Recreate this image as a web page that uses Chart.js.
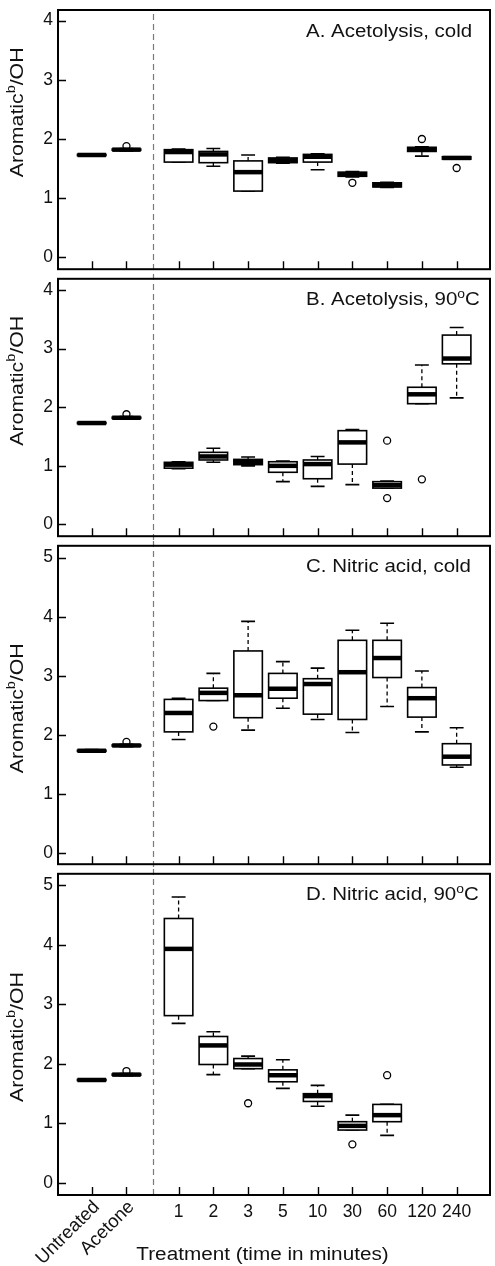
<!DOCTYPE html>
<html>
<head>
<meta charset="utf-8">
<script src="https://cdn.jsdelivr.net/npm/chart.js@4.4.0/dist/chart.umd.min.js"></script>
<style>
  body { margin: 0; background: #fff; }
  #wrap { position: relative; width: 495px; height: 1266px; }
  canvas { position: absolute; left: 0; }
</style>
</head>
<body>
<div id="wrap">
  <canvas id="panelA" width="495" height="274" style="top:0px"></canvas>
  <canvas id="panelB" width="495" height="267" style="top:274px"></canvas>
  <canvas id="panelC" width="495" height="328" style="top:541px"></canvas>
  <canvas id="panelD" width="495" height="397" style="top:869px"></canvas>
</div>
<script>
// categories and their positions on the x axis (gap after the controls)
const groupLabels = ['Untreated', 'Acetone', '1', '2', '3', '5', '10', '30', '60', '120', '240'];
const groupPos = [1, 2, 3.5, 4.5, 5.5, 6.5, 7.5, 8.5, 9.5, 10.5, 11.5];
const dividerPos = 2.75;
const yTicksAB = [0, 1, 2, 3, 4];
const yTicksCD = [0, 1, 2, 3, 4, 5];

// A. Acetolysis, cold
const aLow  = [1.71, 1.80, 1.61, 1.54, 1.12, 1.59, 1.48, 1.36, 1.18, 1.71, 1.66];
const aQ1   = [1.72, 1.81, 1.61, 1.60, 1.12, 1.60, 1.61, 1.37, 1.19, 1.79, 1.66];
const aMed  = [1.73, 1.82, 1.78, 1.74, 1.44, 1.64, 1.70, 1.40, 1.22, 1.82, 1.68];
const aQ3   = [1.74, 1.83, 1.82, 1.79, 1.63, 1.68, 1.74, 1.44, 1.26, 1.86, 1.70];
const aHigh = [1.75, 1.84, 1.83, 1.84, 1.73, 1.69, 1.75, 1.45, 1.27, 1.87, 1.70];
const aOut  = [[], [1.88], [], [], [], [], [], [1.26], [], [2.00], [1.51]];

// B. Acetolysis, 90oC
const bLow  = [1.71, 1.80, 0.95, 1.06, 1.00, 0.73, 0.65, 0.68, 0.62, 2.06, 2.16];
const bQ1   = [1.72, 1.81, 0.96, 1.10, 1.02, 0.89, 0.78, 1.03, 0.62, 2.06, 2.74];
const bMed  = [1.73, 1.82, 1.02, 1.16, 1.07, 1.00, 1.03, 1.40, 0.67, 2.22, 2.83];
const bQ3   = [1.74, 1.83, 1.06, 1.23, 1.11, 1.07, 1.10, 1.60, 0.73, 2.34, 3.23];
const bHigh = [1.75, 1.84, 1.07, 1.30, 1.15, 1.08, 1.16, 1.62, 0.74, 2.72, 3.36];
const bOut  = [[], [1.88], [], [], [], [], [], [], [1.43, 0.45], [0.77], []];

// C. Nitric acid, cold
const cLow  = [1.71, 1.80, 1.92, 2.58, 2.08, 2.45, 2.26, 2.04, 2.48, 2.05, 1.45];
const cQ1   = [1.72, 1.81, 2.05, 2.58, 2.29, 2.62, 2.35, 2.26, 2.97, 2.30, 1.49];
const cMed  = [1.73, 1.82, 2.37, 2.71, 2.67, 2.78, 2.86, 3.06, 3.30, 2.62, 1.63];
const cQ3   = [1.74, 1.83, 2.60, 2.79, 3.42, 3.04, 2.95, 3.60, 3.60, 2.80, 1.85];
const cHigh = [1.75, 1.84, 2.62, 3.04, 3.92, 3.24, 3.13, 3.77, 3.89, 3.08, 2.12];
const cOut  = [[], [1.88], [], [2.14], [], [], [], [], [], [], []];

// D. Nitric acid, 90oC (no 120 / 240 samples)
const dLow  = [1.71, 1.80, 2.68, 1.82, 1.92, 1.59, 1.29, 0.89, 0.80, null, null];
const dQ1   = [1.72, 1.81, 2.81, 1.99, 1.92, 1.70, 1.37, 0.89, 1.03, null, null];
const dMed  = [1.73, 1.82, 3.93, 2.31, 1.99, 1.81, 1.46, 0.96, 1.14, null, null];
const dQ3   = [1.74, 1.83, 4.44, 2.46, 2.09, 1.90, 1.50, 1.03, 1.32, null, null];
const dHigh = [1.75, 1.84, 4.80, 2.54, 2.13, 2.07, 1.64, 1.14, 1.32, null, null];
const dOut  = [[], [1.88], [], [], [1.34], [], [], [0.65], [1.81], [], []];

const FONT = "'Liberation Sans', Arial, Helvetica, sans-serif";
const INK = '#111';

// text with optional superscript pieces, drawn from the current origin
function richWidth(ctx, parts, size) {
    let w = 0;
    parts.forEach(p => {
        ctx.font = `${p.sup ? size * 0.68 : size}px ${FONT}`;
        w += ctx.measureText(p.t).width;
    });
    return w;
}
function drawRich(ctx, parts, size, x) {
    parts.forEach(p => {
        ctx.font = `${p.sup ? size * 0.68 : size}px ${FONT}`;
        ctx.fillText(p.t, x, p.sup ? -size * 0.42 : 0);
        x += ctx.measureText(p.t).width;
    });
}

function boxPlugin(p) {
    return {
        id: 'boxes',
        beforeDatasetsDraw(chart) {
            const { ctx, chartArea: ca, scales: { x, y } } = chart;
            ctx.save();
            // dashed divider between controls and timed treatments
            const dx = Math.round(x.getPixelForValue(dividerPos)) + 0.5;
            ctx.strokeStyle = '#7a7a7a';
            ctx.lineWidth = 1.2;
            ctx.setLineDash([6, 4]);
            ctx.beginPath();
            ctx.moveTo(dx, p.first ? ca.top + 4 : 0);
            ctx.lineTo(dx, p.last ? ca.bottom : chart.height);
            ctx.stroke();

            ctx.strokeStyle = '#000';
            groupPos.forEach((g, i) => {
                if (p.med[i] == null) return;
                const cx = x.getPixelForValue(g);
                const half = x.getPixelForValue(g + 0.41) - cx;
                const cap = x.getPixelForValue(g + 0.2) - cx;
                const yLo = y.getPixelForValue(p.low[i]);
                const yQ1 = y.getPixelForValue(p.q1[i]);
                const yMd = y.getPixelForValue(p.med[i]);
                const yQ3 = y.getPixelForValue(p.q3[i]);
                const yHi = y.getPixelForValue(p.high[i]);

                // whiskers (dashed) and staples
                ctx.lineWidth = 1.3;
                ctx.setLineDash([4, 3]);
                ctx.beginPath();
                ctx.moveTo(cx, yQ3); ctx.lineTo(cx, yHi);
                ctx.moveTo(cx, yQ1); ctx.lineTo(cx, yLo);
                ctx.stroke();
                ctx.setLineDash([]);
                ctx.lineWidth = 1.6;
                ctx.beginPath();
                ctx.moveTo(cx - cap, yHi); ctx.lineTo(cx + cap, yHi);
                ctx.moveTo(cx - cap, yLo); ctx.lineTo(cx + cap, yLo);
                ctx.stroke();

                // box
                ctx.fillStyle = '#fff';
                ctx.fillRect(cx - half, yQ3, half * 2, yQ1 - yQ3);
                ctx.lineWidth = 1.6;
                ctx.strokeRect(cx - half, yQ3, half * 2, yQ1 - yQ3);

                // median
                ctx.lineWidth = 4.5;
                ctx.beginPath();
                ctx.moveTo(cx - half, yMd); ctx.lineTo(cx + half, yMd);
                ctx.stroke();
            });
            ctx.restore();
        },
        afterDraw(chart) {
            const { ctx, chartArea: ca, scales: { x, y } } = chart;
            ctx.save();
            // frame
            ctx.strokeStyle = '#000';
            ctx.lineWidth = 2;
            ctx.strokeRect(ca.left, ca.top, ca.right - ca.left, ca.bottom - ca.top);

            // inward tick marks
            ctx.lineWidth = 1.4;
            ctx.beginPath();
            p.yTicks.forEach(v => {
                const py = Math.round(y.getPixelForValue(v)) + 0.5;
                ctx.moveTo(ca.left, py); ctx.lineTo(ca.left + 8, py);
            });
            groupPos.forEach(g => {
                const px = Math.round(x.getPixelForValue(g)) + 0.5;
                ctx.moveTo(px, ca.bottom); ctx.lineTo(px, ca.bottom - 8);
            });
            ctx.stroke();

            ctx.fillStyle = INK;
            ctx.textBaseline = 'alphabetic';
            ctx.textAlign = 'left';

            // panel title
            ctx.save();
            ctx.translate(306, ca.top + 26.5);
            ctx.scale(1.17, 1);
            drawRich(ctx, p.title, 17.5, 0);
            ctx.restore();

            // y axis label
            const yl = [{ t: 'Aromatic' }, { t: 'b', sup: true }, { t: '/OH' }];
            ctx.save();
            ctx.translate(23, y.getPixelForValue(2.45));
            ctx.rotate(-Math.PI / 2);
            ctx.scale(1.12, 1);
            const w = richWidth(ctx, yl, 19);
            drawRich(ctx, yl, 19, -w / 2);
            ctx.restore();

            if (p.last) {
                // rotated control labels
                [0, 1].forEach(i => {
                    const px = x.getPixelForValue(groupPos[i]);
                    ctx.save();
                    ctx.translate(px + 5, ca.bottom + 9);
                    ctx.rotate(-Math.PI / 4);
                    ctx.textAlign = 'right';
                    ctx.textBaseline = 'middle';
                    ctx.font = `18.5px ${FONT}`;
                    ctx.fillText(groupLabels[i], 0, 0);
                    ctx.restore();
                });
                // x axis title
                ctx.save();
                ctx.translate(262.5, ca.bottom + 65);
                ctx.scale(1.15, 1);
                ctx.textAlign = 'center';
                ctx.font = `18px ${FONT}`;
                ctx.fillText('Treatment (time in minutes)', 0, 0);
                ctx.restore();
            }
            ctx.restore();
        }
    };
}

function makePanel(id, p) {
    const outliers = [];
    p.out.forEach((vals, i) => vals.forEach(v => outliers.push({ x: groupPos[i], y: v })));

    return new Chart(document.getElementById(id), {
        type: 'scatter',
        data: {
            datasets: [{
                label: 'Outliers',
                data: outliers,
                pointRadius: 3.5,
                pointHoverRadius: 3.5,
                borderColor: '#000',
                borderWidth: 1.3,
                backgroundColor: 'rgba(0,0,0,0)'
            }]
        },
        options: {
            responsive: false,
            animation: false,
            events: [],
            layout: { padding: { top: p.padTop, right: 5, left: 0, bottom: 0 } },
            plugins: { legend: { display: false }, tooltip: { enabled: false } },
            scales: {
                x: {
                    type: 'linear',
                    min: 0.03,
                    max: 12.46,
                    grid: { display: false, drawTicks: false },
                    border: { display: false },
                    afterBuildTicks: s => { s.ticks = groupPos.slice(2).map(v => ({ value: v })); },
                    afterFit: s => { s.height = p.xHeight; s.paddingLeft = 0; s.paddingRight = 0; },
                    ticks: {
                        display: p.last,
                        autoSkip: false,
                        maxRotation: 0,
                        minRotation: 0,
                        padding: 7,
                        color: INK,
                        font: { family: FONT, size: 17.5 },
                        callback: (v, i) => groupLabels[i + 2]
                    }
                },
                y: {
                    min: p.yMin,
                    max: p.yMax,
                    grid: { display: false, drawTicks: false },
                    border: { display: false },
                    afterBuildTicks: s => { s.ticks = p.yTicks.map(v => ({ value: v })); },
                    afterFit: s => { s.width = 58; s.paddingTop = 0; s.paddingBottom = 0; },
                    ticks: {
                        padding: 5,
                        color: INK,
                        font: { family: FONT, size: 17.5 }
                    }
                }
            }
        },
        plugins: [boxPlugin(p)]
    });
}

makePanel('panelA', {
    title: [{ t: 'A. Acetolysis, cold' }],
    low: aLow, q1: aQ1, med: aMed, q3: aQ3, high: aHigh, out: aOut,
    yMin: -0.2, yMax: 4.18, yTicks: yTicksAB, padTop: 10, xHeight: 2, first: true
});
makePanel('panelB', {
    title: [{ t: 'B. Acetolysis, 90' }, { t: 'o', sup: true }, { t: 'C' }],
    low: bLow, q1: bQ1, med: bMed, q3: bQ3, high: bHigh, out: bOut,
    yMin: -0.2, yMax: 4.19, yTicks: yTicksAB, padTop: 3, xHeight: 2
});
makePanel('panelC', {
    title: [{ t: 'C. Nitric acid, cold' }],
    low: cLow, q1: cQ1, med: cMed, q3: cQ3, high: cHigh, out: cOut,
    yMin: -0.19, yMax: 5.2, yTicks: yTicksCD, padTop: 4, xHeight: 2
});
makePanel('panelD', {
    title: [{ t: 'D. Nitric acid, 90' }, { t: 'o', sup: true }, { t: 'C' }],
    low: dLow, q1: dQ1, med: dMed, q3: dQ3, high: dHigh, out: dOut,
    yMin: -0.2, yMax: 5.19, yTicks: yTicksCD, padTop: 4, xHeight: 71, last: true
});
</script>
</body>
</html>
